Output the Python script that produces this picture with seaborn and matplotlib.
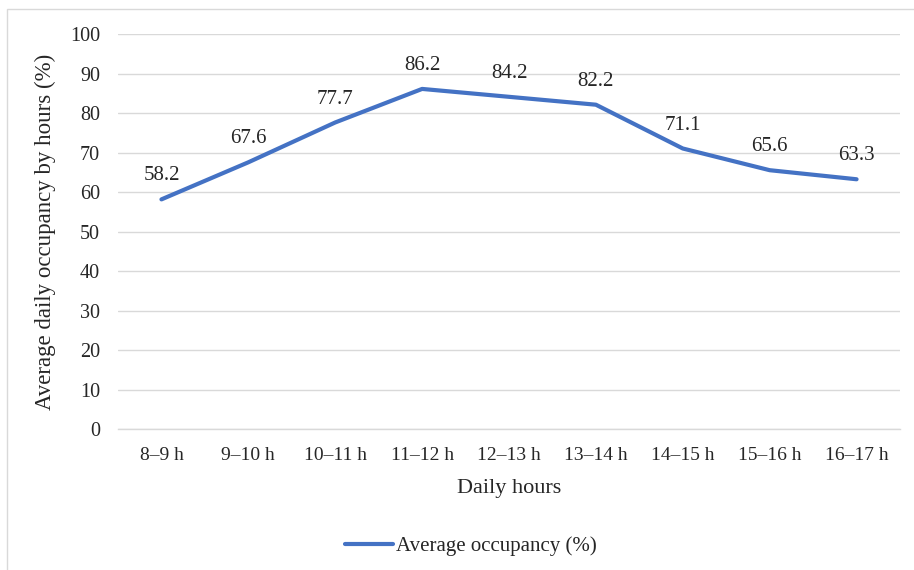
import pandas as pd
import matplotlib.pyplot as plt
import matplotlib.patches as patches
import seaborn as sns

hours = ["8–9 h", "9–10 h", "10–11 h", "11–12 h", "12–13 h",
         "13–14 h", "14–15 h", "15–16 h", "16–17 h"]
occupancy = [58.2, 67.6, 77.7, 86.2, 84.2, 82.2, 71.1, 65.6, 63.3]

df = pd.DataFrame({"hour": hours, "occ": occupancy})

sns.set_style("white")
plt.rcParams['font.family'] = ['Liberation Serif', 'DejaVu Serif']

fig = plt.figure(figsize=(9.14, 5.70), dpi=100)
ax = fig.add_axes([0.1291, 0.2474, 0.8556, 0.6921])

sns.lineplot(data=df, x="hour", y="occ", color="#4472C4", linewidth=3,
             sort=False, label="Average occupancy (%)", ax=ax)

for i, v in enumerate(occupancy):
    ax.annotate(f"{v:.1f}", (i, v), xytext=(0, 10), textcoords="offset points",
                ha="center", va="bottom", fontsize=15)

ax.set_ylim(0, 100)
ax.set_xlim(-0.5, len(hours) - 0.5)
ax.set_yticks(range(0, 101, 10))
ax.yaxis.grid(True, color="#d9d9d9", linewidth=1)
ax.xaxis.grid(False)
for s in ax.spines.values():
    s.set_visible(False)
ax.spines["bottom"].set_visible(True)
ax.spines["bottom"].set_color("#d9d9d9")
ax.spines["bottom"].set_linewidth(1)
ax.tick_params(axis="y", length=0, pad=13, labelsize=14.5)
ax.tick_params(axis="x", length=0, pad=13, labelsize=14)
ax.set_xlabel("Daily hours", fontsize=16, labelpad=11)
ax.set_ylabel("Average daily occupancy by hours (%)", fontsize=16.5, labelpad=10)

ax.legend(loc="center", bbox_to_anchor=(471 / 914, 1 - 546 / 570),
          bbox_transform=fig.transFigure, frameon=False, fontsize=15,
          handlelength=2.3, handletextpad=0.15)

fig.patches.append(patches.Rectangle((7 / 914, -0.1), 1.0, 1.1 - 9 / 570,
                                     transform=fig.transFigure, fill=False,
                                     edgecolor="#d9d9d9", linewidth=1))

fig.savefig("out.png", dpi=100)
